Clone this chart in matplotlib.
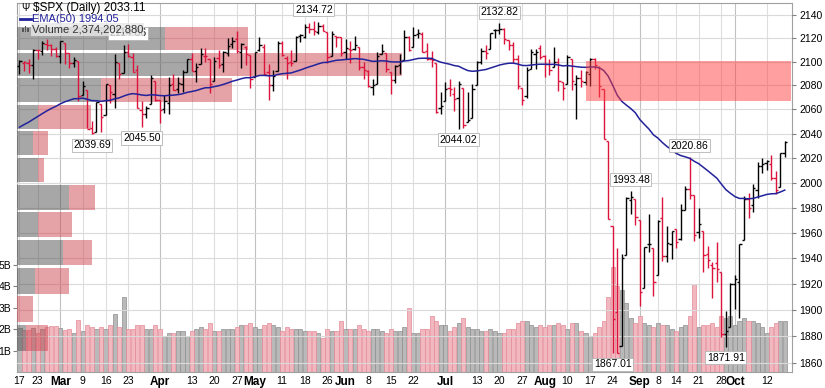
import numpy as np
import pandas as pd
import matplotlib
matplotlib.use('Agg')
import matplotlib.pyplot as plt
from matplotlib.patches import Rectangle

plt.rcParams['font.family'] = ['Liberation Sans', 'DejaVu Sans']

# trading days shown on the chart
holidays = ['2015-04-03', '2015-05-25', '2015-07-03', '2015-09-07']
dates = pd.bdate_range('2015-02-17', '2015-10-16')
dates = dates[~dates.isin(pd.to_datetime(holidays))]

prev_close = 2096.99

opens = [
    2096.5, 2099.2, 2099.3, 2097.6, 2109.8, 2109.1, 2115.3, 2113.9, 2110.9,
    2105.0, 2115.8, 2107.7, 2098.5, 2100.9, 2072.3, 2076.1, 2044.7, 2041.1, 2064.6, 2055.4,
    2080.6, 2072.8, 2098.7, 2090.3, 2108.0, 2103.9, 2093.1, 2059.9, 2055.8, 2064.1, 2084.1,
    2067.6, 2060.0, 2064.9, 2080.8, 2076.9, 2081.3, 2091.5, 2102.0, 2092.3, 2097.8, 2105.0,
    2102.6, 2084.1, 2102.8, 2098.3, 2107.2, 2114.8, 2119.3, 2108.4, 2112.5, 2105.5,
    2087.4, 2110.2, 2112.6, 2091.3, 2080.0, 2092.1, 2115.6, 2102.9, 2099.6, 2100.4,
    2122.1, 2121.3, 2129.5, 2127.8, 2125.6, 2130.4, 2125.3, 2105.1, 2122.3, 2120.7,
    2108.6, 2110.4, 2110.6, 2112.4, 2095.1, 2092.3, 2079.1, 2081.0, 2106.2, 2107.4, 2091.3,
    2084.3, 2097.4, 2101.6, 2121.1, 2112.5, 2123.2, 2123.7, 2109.0, 2102.6, 2098.6, 2061.2,
    2067.0, 2078.0, 2073.0, 2069.5, 2077.7, 2049.7, 2052.7, 2080.0, 2099.7, 2109.0, 2110.6,
    2126.8, 2126.9, 2127.6, 2118.2, 2114.2, 2102.2, 2078.2, 2070.8, 2094.1, 2106.8, 2111.6,
    2104.5, 2097.7, 2095.3, 2100.1, 2082.6, 2081.0, 2102.7, 2081.1, 2086.2, 2083.2, 2089.7,
    2101.9, 2095.7, 2076.6, 2034.1, 1965.2, 1898.1, 1872.8, 1942.8, 1986.1, 1986.7,
    1970.1, 1916.5, 1950.8, 1947.8, 1927.3, 1971.5, 1941.6, 1951.5, 1963.1, 1955.1, 1978.0,
    1995.3, 1989.7, 1960.8, 1961.4, 1943.2, 1934.8, 1935.9, 1929.2, 1881.9, 1887.1,
    1919.7, 1921.8, 1954.3, 1986.6, 1982.3, 1994.0, 2013.7, 2015.7, 2015.0, 2003.7, 1996.5, 2024.4,
]
highs = [
    2101.3, 2100.2, 2102.1, 2111.0, 2110.1, 2117.9, 2119.6, 2115.0, 2112.7,
    2117.5, 2115.8, 2107.7, 2104.3, 2100.9, 2083.5, 2076.1, 2050.1, 2066.4, 2064.6, 2081.4,
    2080.6, 2106.9, 2098.7, 2113.9, 2114.86, 2107.6, 2097.4, 2067.1, 2062.8, 2088.97, 2084.1,
    2067.6, 2072.2, 2087.0, 2089.8, 2086.7, 2093.3, 2102.6, 2107.7, 2098.6, 2111.9, 2111.3,
    2102.6, 2103.9, 2109.6, 2109.0, 2120.5, 2120.9, 2125.9, 2116.0, 2113.7, 2105.5,
    2108.4, 2120.95, 2115.2, 2098.4, 2092.9, 2117.7, 2117.7, 2105.1, 2110.2, 2121.5,
    2123.9, 2131.8, 2133.0, 2134.72, 2134.3, 2132.2, 2125.3, 2126.2, 2122.3, 2120.7,
    2119.2, 2117.6, 2121.9, 2112.9, 2100.0, 2093.0, 2085.6, 2108.5, 2115.0, 2107.4, 2091.3,
    2097.4, 2106.8, 2126.6, 2121.6, 2129.87, 2128.0, 2125.1, 2116.0, 2108.9, 2098.6, 2074.3,
    2082.8, 2085.1, 2078.6, 2083.7, 2077.7, 2074.3, 2081.3, 2100.7, 2111.98, 2114.2, 2124.4,
    2128.1, 2132.82, 2128.4, 2118.5, 2116.9, 2106.0, 2078.2, 2095.6, 2110.6, 2110.5, 2114.2,
    2105.7, 2102.5, 2112.7, 2103.3, 2082.6, 2105.4, 2102.7, 2089.1, 2092.9, 2092.5, 2102.9,
    2103.5, 2096.2, 2076.6, 2034.1, 1965.2, 1948.0, 1943.1, 1988.6, 1993.48, 1986.7,
    1970.1, 1948.9, 1975.0, 1947.8, 1970.4, 1988.6, 1965.3, 1961.1, 1963.1, 1983.2, 1997.3,
    2020.86, 1989.7, 1979.6, 1961.4, 1949.5, 1937.2, 1952.9, 1929.2, 1899.5, 1920.5,
    1927.2, 1951.4, 1989.2, 1991.6, 1999.3, 2016.5, 2020.1, 2018.7, 2022.3, 2009.6, 2024.2, 2033.5,
]
lows = [
    2089.8, 2092.2, 2090.8, 2085.4, 2102.5, 2105.9, 2109.9, 2105.2, 2103.8,
    2098.5, 2098.3, 2094.5, 2095.2, 2067.3, 2072.2, 2044.2, 2039.69, 2041.1, 2041.2, 2055.4,
    2065.1, 2061.2, 2085.6, 2090.3, 2104.4, 2091.5, 2061.1, 2045.5, 2052.9, 2064.1, 2067.0,
    2048.4, 2057.3, 2056.5, 2076.1, 2073.3, 2074.3, 2091.5, 2092.3, 2083.2, 2097.8, 2100.0,
    2073.5, 2084.1, 2094.4, 2091.1, 2104.9, 2112.0, 2107.0, 2094.9, 2097.4, 2077.6,
    2087.4, 2108.8, 2088.5, 2067.9, 2075.0, 2092.1, 2104.6, 2085.6, 2096.0, 2100.4,
    2116.8, 2120.0, 2124.5, 2122.6, 2123.9, 2126.1, 2099.2, 2105.1, 2112.9, 2104.9,
    2102.5, 2099.1, 2109.6, 2093.2, 2085.7, 2079.1, 2072.1, 2081.0, 2106.2, 2091.3, 2072.5,
    2082.1, 2089.7, 2101.6, 2109.5, 2112.5, 2119.9, 2108.2, 2101.8, 2095.4, 2056.6, 2056.3,
    2067.0, 2071.0, 2058.4, 2044.02, 2044.7, 2049.7, 2052.7, 2080.0, 2098.2, 2102.5, 2110.6,
    2119.9, 2123.7, 2115.4, 2110.0, 2098.6, 2077.1, 2063.5, 2069.1, 2094.1, 2094.1, 2102.1,
    2087.3, 2088.6, 2095.3, 2075.5, 2067.9, 2081.0, 2076.5, 2052.1, 2078.3, 2080.6, 2079.3,
    2094.1, 2070.5, 2035.7, 1970.9, 1867.01, 1867.1, 1872.8, 1942.8, 1975.2, 1965.98,
    1903.1, 1916.5, 1944.7, 1911.0, 1927.3, 1937.9, 1937.2, 1939.2, 1948.3, 1954.3, 1977.9,
    1986.7, 1953.5, 1955.8, 1929.2, 1932.6, 1908.9, 1921.5, 1879.2, 1871.91, 1887.1,
    1900.7, 1893.7, 1954.3, 1972.0, 1976.4, 1987.5, 2007.6, 2010.6, 2001.8, 1990.7, 1996.5, 2020.5,
]
closes = [
    2100.34, 2099.68, 2097.45, 2110.30, 2109.66, 2115.48, 2113.86, 2110.74, 2104.50,
    2117.39, 2107.78, 2098.53, 2101.04, 2071.26, 2079.43, 2044.16, 2040.24, 2065.95, 2053.40, 2081.19,
    2074.28, 2099.50, 2089.27, 2108.10, 2104.42, 2091.50, 2061.05, 2056.15, 2061.02, 2086.24, 2067.89,
    2059.69, 2066.96, 2080.62, 2076.33, 2081.90, 2091.18, 2102.06, 2092.43, 2095.84, 2106.63, 2104.99,
    2081.18, 2100.40, 2097.29, 2107.96, 2112.93, 2117.69, 2108.92, 2114.76, 2106.85, 2085.51,
    2108.29, 2114.49, 2089.46, 2080.15, 2088.00, 2116.10, 2105.33, 2099.12, 2098.48, 2121.10,
    2122.73, 2129.20, 2127.83, 2125.85, 2130.82, 2126.06, 2104.20, 2123.48, 2120.79, 2107.39,
    2111.73, 2109.60, 2114.07, 2095.84, 2092.83, 2079.28, 2080.15, 2105.20, 2108.86, 2094.11, 2084.43,
    2096.29, 2100.44, 2121.24, 2109.99, 2122.85, 2124.20, 2108.58, 2102.31, 2101.49, 2057.64, 2063.11,
    2077.42, 2076.78, 2068.76, 2081.34, 2046.68, 2051.31, 2076.62, 2099.60, 2108.95, 2107.40, 2124.29,
    2126.64, 2128.28, 2119.21, 2114.15, 2102.15, 2079.65, 2067.64, 2093.25, 2108.57, 2108.63, 2103.84,
    2098.04, 2093.32, 2099.84, 2083.56, 2077.57, 2104.18, 2084.07, 2086.05, 2083.39, 2091.54, 2102.44,
    2096.92, 2079.61, 2035.73, 1970.89, 1893.21, 1867.61, 1940.51, 1987.66, 1988.87, 1972.18,
    1913.85, 1948.86, 1951.13, 1921.22, 1969.41, 1942.04, 1952.29, 1961.05, 1953.03, 1978.09, 1995.31,
    1990.20, 1958.03, 1966.97, 1942.74, 1938.76, 1932.24, 1931.34, 1881.77, 1884.09, 1920.03,
    1923.82, 1951.36, 1987.05, 1979.92, 1995.83, 2013.43, 2014.89, 2017.46, 2003.69, 1994.24, 2023.86, 2033.11,
]
# daily volume, billions of shares
volumes = [
    2.05, 1.95, 1.95, 2.07, 1.81, 2.0, 2.1, 2.15, 2.15,
    2.05, 1.95, 2.0, 1.84, 2.43, 1.9, 2.2, 2.1, 2.0, 2.1, 2.0, 2.2, 2.7, 2.1, 3.5, 2.0,
    2.0, 2.2, 2.2, 2.0, 2.0, 2.2,
    2.0, 1.7, 1.8, 1.8, 1.9, 1.9, 1.7, 1.9, 2.0, 2.1, 2.0, 2.3, 1.9, 1.9, 2.0, 2.0, 2.0,
    2.1, 2.2, 2.2, 2.3,
    2.1, 2.0, 2.2, 2.3, 2.2, 2.1, 1.9, 2.1, 2.0, 2.0, 2.0, 1.9, 1.9, 1.9, 1.8, 1.6, 2.0,
    1.9, 1.9, 2.4,
    2.0, 2.0, 2.0, 2.2, 2.0, 1.9, 2.0, 2.0, 1.9, 1.8, 2.0, 1.9, 1.9, 2.1, 3.0, 1.8, 1.8,
    2.0, 2.0, 2.6, 2.4, 2.2,
    2.2, 1.9, 2.1, 2.3, 2.5, 2.1, 2.0, 2.0, 1.9, 1.9, 2.0, 1.9, 1.8, 1.8, 2.0, 2.0, 2.3,
    2.4, 2.4, 2.2, 2.1, 2.2,
    2.1, 2.2, 2.2, 2.3, 2.2, 2.0, 2.3, 2.3, 1.9, 1.8, 1.7, 1.8, 2.1, 2.4, 3.5, 4.9, 4.0,
    3.8, 3.2, 2.5, 2.3,
    2.6, 2.3, 2.2, 2.1, 2.3, 2.2, 2.2, 2.0, 1.9, 2.1, 2.2, 2.6, 4.1, 2.1, 2.2, 2.2, 2.3,
    2.1, 2.6, 2.5, 2.6,
    2.2, 2.4, 2.5, 2.4, 2.4, 2.3, 2.1, 1.8, 2.1, 2.3, 2.4, 2.37,
]

ema_start = 2043.0

# volume-by-price zones over the closing range, bottom zone first (billions of shares)
vbp_up = [2.9, 0.0, 5.8, 14.7, 6.7, 16.6, 6.7, 5.1, 6.7, 26.9, 56.3, 47.4]
vbp_down = [7.0, 5.1, 10.9, 9.3, 10.9, 8.3, 1.9, 4.8, 17.0, 41.9, 66.9, 26.6]

# user annotation box
box_start = '2015-08-14'
box_low, box_high = 2067.0, 2101.0

tick_dates = ['2015-02-17', '2015-02-23', '2015-03-02', '2015-03-09', '2015-03-16',
              '2015-03-23', '2015-04-01', '2015-04-13', '2015-04-20', '2015-04-27',
              '2015-05-01', '2015-05-11', '2015-05-18', '2015-05-26', '2015-06-01',
              '2015-06-08', '2015-06-15', '2015-06-22', '2015-07-01', '2015-07-13',
              '2015-07-20', '2015-07-27', '2015-08-03', '2015-08-10', '2015-08-17',
              '2015-08-24', '2015-09-01', '2015-09-08', '2015-09-14', '2015-09-21',
              '2015-09-28', '2015-10-01', '2015-10-12']
month_dates = ['2015-03-02', '2015-04-01', '2015-05-01', '2015-06-01',
               '2015-07-01', '2015-08-03', '2015-09-01', '2015-10-01']

high_marks = ['2015-03-23', '2015-05-20', '2015-07-20', '2015-08-28', '2015-09-17']
low_marks = ['2015-03-11', '2015-03-26', '2015-07-07', '2015-08-24', '2015-09-29']

RED = '#dc143c'
NAVY = '#22229a'
n = len(dates)
x = np.arange(n)
o, h, l, c = map(np.array, (opens, highs, lows, closes))
prev = np.concatenate([[prev_close], c[:-1]])
up = c >= prev
bar_col = np.where(up, 'black', RED)
vol = np.array(volumes)

ema = []
e = ema_start
for v in closes:
    e = e + (v - e) * 2 / 51
    ema.append(e)

pos = {d.strftime('%Y-%m-%d'): i for i, d in enumerate(dates)}

fig = plt.figure(figsize=(8.25, 3.88), dpi=100)
rect = [17 / 825, 16 / 388, 775 / 825, 369 / 388]
xlim = (-0.55, n + 0.6)
ylim = (1853.0, 2150.3)

# volume panel (bottom layer)
axv = fig.add_axes(rect)
axv.set_xlim(xlim)
axv.set_ylim(0, 17.2)
tick_x = [pos[d] for d in tick_dates]
for d, tx in zip(tick_dates, tick_x):
    axv.axvline(tx, color='#c0c0c0' if d in month_dates else '#dedede', lw=0.8, zorder=0)
axv.bar(x[up], vol[up], width=0.9, color='#b9b9b9', edgecolor='#8e8e8e', lw=0.5, zorder=1)
axv.bar(x[~up], vol[~up], width=0.9, color='#f2b8c0', edgecolor='#e58a98', lw=0.5, zorder=1)
axv.set_yticks([1, 2, 3, 4, 5])
axv.set_yticklabels(['1B', '2B', '3B', '4B', '5B'])
axv.tick_params(axis='y', labelsize=7.5, length=3, pad=1, color='#808080')
labels = [pd.Timestamp(d).strftime('%b') if d in month_dates else str(pd.Timestamp(d).day)
          for d in tick_dates]
axv.set_xticks(tick_x)
axv.set_xticklabels(labels)
for lab in axv.get_xticklabels():
    if lab.get_text().isdigit():
        lab.set_fontsize(7.5)
    else:
        lab.set_fontweight('bold')
        lab.set_fontsize(8.5)
axv.tick_params(axis='x', length=0, pad=3)
for s in axv.spines.values():
    s.set_color('#a0a0a0')
    s.set_linewidth(0.8)

# volume by price (middle layer)
axp = fig.add_axes(rect, facecolor='none')
axp.set_yscale('log')
axp.set_ylim(ylim)
axp.set_xlim(0, 248)
for gy in range(1860, 2141, 20):
    axp.axhline(gy, color='#dadada', lw=0.8, zorder=0)
edges = np.linspace(min(closes), max(closes), len(vbp_up) + 1)
for k in range(len(vbp_up)):
    mid = (edges[k] + edges[k + 1]) / 2
    hgt = (edges[k + 1] - edges[k]) * 0.9
    axp.barh(mid, vbp_up[k], height=hgt, left=0, color='#505050', alpha=0.5, lw=0, zorder=2)
    axp.barh(mid, vbp_down[k], height=hgt, left=vbp_up[k], color='#cd4650', alpha=0.5, lw=0, zorder=2)
axp.axis('off')

# price panel (top layer)
ax = fig.add_axes(rect, facecolor='none')
ax.set_yscale('log')
ax.set_ylim(ylim)
ax.set_xlim(xlim)
ax.vlines(x, l, h, colors=bar_col, lw=1.0, zorder=3)
ax.hlines(o, x - 0.5, x, colors=bar_col, lw=1.0, zorder=3)
ax.hlines(c, x, x + 0.5, colors=bar_col, lw=1.0, zorder=3)
ax.plot(x, ema, color=NAVY, lw=1.1, zorder=4)
bx = pos[box_start]
ax.add_patch(Rectangle((bx, box_low), xlim[1] - bx - 0.3, box_high - box_low,
                       facecolor='#ff4040', alpha=0.5, lw=0, zorder=5))

box = dict(boxstyle='square,pad=0.15', fc='white', ec='#b4b4b4', lw=0.6)
for d in high_marks:
    i = pos[d]
    ax.annotate(f'{highs[i]:.2f}', xy=(i, highs[i]), xytext=(0, 8), textcoords='offset points',
                ha='center', va='center', fontsize=7.5, bbox=box, zorder=6)
for d in low_marks:
    i = pos[d]
    ax.annotate(f'{lows[i]:.2f}', xy=(i, lows[i]), xytext=(0, -8), textcoords='offset points',
                ha='center', va='center', fontsize=7.5, bbox=box, zorder=6)

ax.yaxis.tick_right()
ax.set_yticks(range(1860, 2141, 20))
ax.set_yticklabels([str(v) for v in range(1860, 2141, 20)])
ax.yaxis.set_minor_locator(plt.NullLocator())
ax.tick_params(axis='y', labelsize=7.5, length=3, pad=2, color='#808080')
ax.set_xticks([])
for s in ax.spines.values():
    s.set_visible(False)

# header / legend
ax.text(0.006, 0.987, '\u03a8', transform=ax.transAxes, fontsize=7, va='center', ha='left', zorder=7)
ax.text(0.021, 0.987, '$SPX (Daily) 2033.11', transform=ax.transAxes,
        fontsize=8.5, va='center', ha='left', zorder=7)
ax.plot([0.004, 0.018], [0.957, 0.957], transform=ax.transAxes, color=NAVY, lw=2, zorder=7)
ax.text(0.019, 0.957, 'EMA(50) 1994.05', transform=ax.transAxes, fontsize=8, color=NAVY,
        va='center', ha='left', zorder=7)
ax.bar([0.008, 0.011, 0.014], [0.012, 0.018, 0.01], width=0.0022, bottom=0.921,
       transform=ax.transAxes, color='#555555', zorder=7)
ax.text(0.019, 0.928, 'Volume 2,374,202,880', transform=ax.transAxes, fontsize=8, color='#333333',
        va='center', ha='left', zorder=7,
        bbox=dict(boxstyle='square,pad=0.1', fc='#e8e8e8', ec='none', alpha=0.8))

fig.savefig('out.png', dpi=100)
